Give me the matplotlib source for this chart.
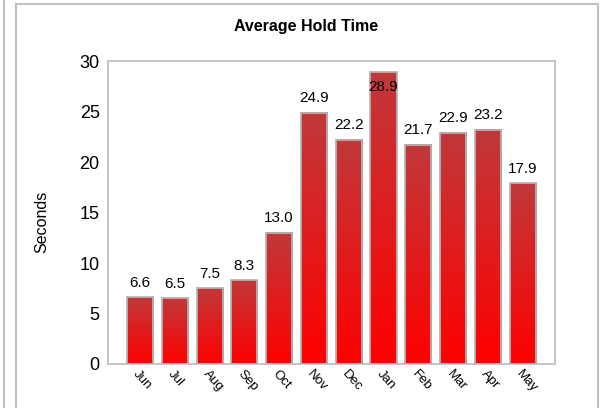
import numpy as np
import matplotlib.pyplot as plt
from matplotlib.colors import LinearSegmentedColormap
from matplotlib.patches import Rectangle
from matplotlib.lines import Line2D

months = ['Jun', 'Jul', 'Aug', 'Sep', 'Oct', 'Nov', 'Dec', 'Jan', 'Feb', 'Mar', 'Apr', 'May']
hold_time = [6.6, 6.5, 7.5, 8.3, 13.0, 24.9, 22.2, 28.9, 21.7, 22.9, 23.2, 17.9]
y_ticks = [0, 5, 10, 15, 20, 25, 30]

plt.rcParams['font.family'] = ['Liberation Sans', 'DejaVu Sans']

W, H = 600, 408
fig = plt.figure(figsize=(W / 100, H / 100), dpi=100)

# outer panel frame lines
fig.add_artist(Line2D([3.5 / W, 3.5 / W], [0, 1], color='#c0c0c0', lw=1.5))
fig.add_artist(Rectangle((16 / W, -0.05), (598 - 16) / W, 1.05 - 4 / H,
                         fill=False, edgecolor='#c0c0c0', lw=1.5))

left, right, top, bottom = 108, 555, 61, 364
ax = fig.add_axes([left / W, 1 - bottom / H, (right - left) / W, (bottom - top) / H])

cmap = LinearSegmentedColormap.from_list('bar', ['#ff0000', '#c0393b'])
grad = np.linspace(0, 1, 256).reshape(-1, 1)
width = 0.75
x = np.arange(len(months))

for i, v in enumerate(hold_time):
    ax.imshow(grad, cmap=cmap, origin='lower', aspect='auto',
              extent=[i - width / 2, i + width / 2, 0, v], zorder=2)
    ax.add_patch(Rectangle((i - width / 2, 0), width, v, fill=False,
                           edgecolor='#b4b4b4', lw=1.3, zorder=3))
    if v + 2.5 > 30:
        ax.text(i, v - 1.5, f'{v:.1f}', ha='center', va='center', fontsize=11, zorder=4)
    else:
        ax.text(i, v + 0.75, f'{v:.1f}', ha='center', va='bottom', fontsize=11, zorder=4)

ax.set_xlim(-0.92, len(months) - 1 + 0.93)
ax.set_ylim(0, 30)
ax.set_yticks(y_ticks)
ax.set_yticklabels([str(t) for t in y_ticks], fontsize=13)
ax.set_xticks(x)
ax.set_xticklabels(months, rotation=-48, ha='left', va='top', rotation_mode='anchor', fontsize=9.5)
ax.tick_params(axis='both', length=0, pad=6)
ax.tick_params(axis='x', pad=3)
for sp in ax.spines.values():
    sp.set_color('#c0c0c0')
    sp.set_linewidth(1.3)

fig.text(306 / W, 1 - 27 / H, 'Average Hold Time', ha='center', va='center',
         fontsize=11.5, fontweight='bold')
fig.text(42 / W, 1 - 222 / H, 'Seconds', ha='center', va='center', rotation=90, fontsize=11.5)

fig.savefig('out.png', dpi=100)
